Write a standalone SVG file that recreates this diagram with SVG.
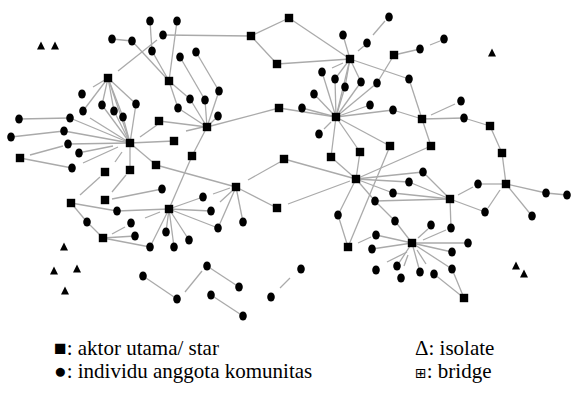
<svg xmlns="http://www.w3.org/2000/svg" width="571" height="395" viewBox="0 0 571 395">
<style>
.e line{stroke:#aaaaaa;stroke-width:1.3;fill:none}
.n{fill:#000}
</style>
<defs>
<rect id="sq" x="-4.2" y="-4.2" width="8.4" height="8.4"/>
<ellipse id="ci" rx="3.8" ry="4.5"/>
<path id="tr" d="M0,-4.5L4,3.5L-4,3.5Z"/>
</defs>
<rect width="571" height="395" fill="#fff"/>
<g id="connectors" class="e">
<line x1="150" y1="21" x2="152" y2="51"/>
<line x1="177" y1="21" x2="169" y2="81"/>
<line x1="163" y1="35" x2="251" y2="36"/>
<line x1="157" y1="40" x2="118" y2="71"/>
<line x1="112" y1="39" x2="132" y2="41"/>
<line x1="132" y1="41" x2="169" y2="81"/>
<line x1="152" y1="51" x2="169" y2="81"/>
<line x1="169" y1="81" x2="178" y2="108"/>
<line x1="169" y1="81" x2="190" y2="99"/>
<line x1="180" y1="57" x2="205" y2="100"/>
<line x1="196" y1="52" x2="219" y2="91"/>
<line x1="205" y1="100" x2="207" y2="127"/>
<line x1="219" y1="91" x2="207" y2="127"/>
<line x1="190" y1="99" x2="207" y2="127"/>
<line x1="178" y1="108" x2="207" y2="127"/>
<line x1="218" y1="116" x2="207" y2="127"/>
<line x1="159" y1="121" x2="207" y2="127"/>
<line x1="157" y1="125" x2="140" y2="137"/>
<line x1="186" y1="131" x2="203" y2="127"/>
<line x1="207" y1="127" x2="192" y2="156"/>
<line x1="207" y1="127" x2="279" y2="108"/>
<line x1="192" y1="156" x2="169" y2="209"/>
<line x1="108" y1="78" x2="93" y2="87"/>
<line x1="108" y1="78" x2="83" y2="111"/>
<line x1="108" y1="78" x2="102" y2="105"/>
<line x1="108" y1="78" x2="114" y2="111"/>
<line x1="108" y1="78" x2="123" y2="117"/>
<line x1="108" y1="78" x2="136" y2="104"/>
<line x1="108" y1="78" x2="130" y2="143"/>
<line x1="130" y1="143" x2="90" y2="118"/>
<line x1="130" y1="143" x2="102" y2="105"/>
<line x1="130" y1="143" x2="114" y2="111"/>
<line x1="130" y1="143" x2="123" y2="117"/>
<line x1="130" y1="143" x2="136" y2="104"/>
<line x1="130" y1="143" x2="70" y2="118"/>
<line x1="130" y1="143" x2="64" y2="131"/>
<line x1="130" y1="143" x2="68" y2="144"/>
<line x1="113" y1="146" x2="83" y2="152"/>
<line x1="118" y1="147" x2="83" y2="163"/>
<line x1="19" y1="119" x2="70" y2="118"/>
<line x1="11" y1="137" x2="64" y2="131"/>
<line x1="30" y1="155" x2="63" y2="146"/>
<line x1="20" y1="158" x2="72" y2="168"/>
<line x1="130" y1="143" x2="174" y2="141"/>
<line x1="130" y1="143" x2="156" y2="165"/>
<line x1="130" y1="143" x2="130" y2="170"/>
<line x1="122" y1="152" x2="115" y2="162"/>
<line x1="100" y1="177" x2="80" y2="195"/>
<line x1="126" y1="175" x2="112" y2="192"/>
<line x1="112" y1="199" x2="162" y2="189"/>
<line x1="156" y1="165" x2="236" y2="187"/>
<line x1="169" y1="209" x2="117" y2="211"/>
<line x1="160" y1="212" x2="145" y2="218"/>
<line x1="169" y1="209" x2="150" y2="247"/>
<line x1="169" y1="209" x2="166" y2="232"/>
<line x1="169" y1="209" x2="174" y2="247"/>
<line x1="169" y1="209" x2="189" y2="240"/>
<line x1="169" y1="209" x2="203" y2="197"/>
<line x1="169" y1="209" x2="211" y2="211"/>
<line x1="169" y1="209" x2="218" y2="228"/>
<line x1="71" y1="203" x2="117" y2="211"/>
<line x1="71" y1="203" x2="87" y2="222"/>
<line x1="87" y1="222" x2="103" y2="238"/>
<line x1="112" y1="234" x2="125" y2="227"/>
<line x1="103" y1="238" x2="135" y2="236"/>
<line x1="103" y1="238" x2="150" y2="247"/>
<line x1="230" y1="188" x2="213" y2="194"/>
<line x1="232" y1="191" x2="220" y2="202"/>
<line x1="236" y1="187" x2="218" y2="228"/>
<line x1="236" y1="187" x2="243" y2="222"/>
<line x1="236" y1="187" x2="277" y2="208"/>
<line x1="248" y1="180" x2="280" y2="162"/>
<line x1="284" y1="159" x2="356" y2="179"/>
<line x1="288" y1="204" x2="350" y2="181"/>
<line x1="143" y1="276" x2="177" y2="299"/>
<line x1="185" y1="292" x2="202" y2="271"/>
<line x1="207" y1="266" x2="239" y2="287"/>
<line x1="211" y1="295" x2="243" y2="316"/>
<line x1="280" y1="288" x2="290" y2="278"/>
<line x1="251" y1="36" x2="289" y2="18"/>
<line x1="251" y1="36" x2="277" y2="64"/>
<line x1="289" y1="18" x2="350" y2="59"/>
<line x1="277" y1="64" x2="350" y2="59"/>
<line x1="350" y1="59" x2="343" y2="35"/>
<line x1="358" y1="51" x2="364" y2="46"/>
<line x1="373" y1="35" x2="385" y2="21"/>
<line x1="350" y1="59" x2="409" y2="79"/>
<line x1="343" y1="63" x2="332" y2="68"/>
<line x1="350" y1="59" x2="345" y2="87"/>
<line x1="350" y1="59" x2="361" y2="82"/>
<line x1="350" y1="59" x2="335" y2="79"/>
<line x1="350" y1="59" x2="336" y2="117"/>
<line x1="394" y1="55" x2="420" y2="49"/>
<line x1="430" y1="45" x2="440" y2="41"/>
<line x1="394" y1="55" x2="377" y2="83"/>
<line x1="409" y1="79" x2="422" y2="119"/>
<line x1="336" y1="117" x2="322" y2="72"/>
<line x1="336" y1="117" x2="335" y2="79"/>
<line x1="336" y1="117" x2="345" y2="87"/>
<line x1="336" y1="117" x2="361" y2="82"/>
<line x1="336" y1="117" x2="377" y2="83"/>
<line x1="336" y1="117" x2="314" y2="94"/>
<line x1="336" y1="117" x2="302" y2="108"/>
<line x1="336" y1="117" x2="279" y2="108"/>
<line x1="336" y1="117" x2="370" y2="105"/>
<line x1="336" y1="117" x2="393" y2="110"/>
<line x1="331" y1="122" x2="324" y2="129"/>
<line x1="336" y1="117" x2="390" y2="146"/>
<line x1="336" y1="117" x2="360" y2="152"/>
<line x1="336" y1="117" x2="331" y2="157"/>
<line x1="393" y1="110" x2="422" y2="119"/>
<line x1="431" y1="115" x2="455" y2="104"/>
<line x1="422" y1="119" x2="464" y2="118"/>
<line x1="464" y1="118" x2="490" y2="126"/>
<line x1="490" y1="126" x2="502" y2="153"/>
<line x1="502" y1="153" x2="506" y2="184"/>
<line x1="422" y1="119" x2="431" y2="146"/>
<line x1="431" y1="146" x2="356" y2="179"/>
<line x1="356" y1="179" x2="360" y2="152"/>
<line x1="356" y1="179" x2="331" y2="157"/>
<line x1="356" y1="179" x2="423" y2="172"/>
<line x1="356" y1="179" x2="409" y2="182"/>
<line x1="356" y1="179" x2="393" y2="193"/>
<line x1="356" y1="179" x2="375" y2="201"/>
<line x1="356" y1="179" x2="338" y2="215"/>
<line x1="390" y1="146" x2="348" y2="247"/>
<line x1="338" y1="215" x2="348" y2="247"/>
<line x1="358" y1="243" x2="371" y2="237"/>
<line x1="450" y1="199" x2="423" y2="172"/>
<line x1="450" y1="199" x2="409" y2="182"/>
<line x1="450" y1="199" x2="393" y2="193"/>
<line x1="450" y1="199" x2="375" y2="201"/>
<line x1="375" y1="201" x2="395" y2="221"/>
<line x1="395" y1="221" x2="412" y2="243"/>
<line x1="458" y1="195" x2="473" y2="187"/>
<line x1="478" y1="184" x2="506" y2="184"/>
<line x1="450" y1="199" x2="485" y2="212"/>
<line x1="488" y1="208" x2="500" y2="190"/>
<line x1="506" y1="184" x2="546" y2="193"/>
<line x1="546" y1="193" x2="567" y2="195"/>
<line x1="506" y1="184" x2="532" y2="216"/>
<line x1="450" y1="199" x2="451" y2="228"/>
<line x1="446" y1="230" x2="423" y2="240"/>
<line x1="428" y1="229" x2="418" y2="238"/>
<line x1="412" y1="243" x2="376" y2="235"/>
<line x1="412" y1="243" x2="372" y2="249"/>
<line x1="412" y1="243" x2="468" y2="243"/>
<line x1="412" y1="243" x2="452" y2="252"/>
<line x1="412" y1="243" x2="452" y2="269"/>
<line x1="417" y1="250" x2="426" y2="264"/>
<line x1="412" y1="243" x2="420" y2="272"/>
<line x1="408" y1="255" x2="404" y2="266"/>
<line x1="412" y1="243" x2="397" y2="266"/>
<line x1="407" y1="252" x2="387" y2="262"/>
<line x1="434" y1="274" x2="464" y2="298"/>
<line x1="452" y1="269" x2="464" y2="298"/>
</g>
<g id="nodes" class="n">
<g id="s1"><use href="#sq" x="108" y="78"/></g>
<g id="s2"><use href="#sq" x="169" y="81"/></g>
<g id="s3"><use href="#sq" x="159" y="121"/></g>
<g id="s4"><use href="#sq" x="130" y="143"/></g>
<g id="s5"><use href="#sq" x="174" y="141"/></g>
<g id="s6"><use href="#sq" x="192" y="156"/></g>
<g id="s7"><use href="#sq" x="207" y="127"/></g>
<g id="s8"><use href="#sq" x="20" y="158"/></g>
<g id="s9"><use href="#sq" x="105" y="172"/></g>
<g id="s10"><use href="#sq" x="130" y="170"/></g>
<g id="s11"><use href="#sq" x="156" y="165"/></g>
<g id="s12"><use href="#sq" x="71" y="203"/></g>
<g id="s13"><use href="#sq" x="105" y="200"/></g>
<g id="s14"><use href="#sq" x="169" y="209"/></g>
<g id="s15"><use href="#sq" x="103" y="238"/></g>
<g id="s16"><use href="#sq" x="236" y="187"/></g>
<g id="s17"><use href="#sq" x="277" y="208"/></g>
<g id="s18"><use href="#sq" x="284" y="159"/></g>
<g id="s19"><use href="#sq" x="251" y="36"/></g>
<g id="s20"><use href="#sq" x="289" y="18"/></g>
<g id="s21"><use href="#sq" x="277" y="64"/></g>
<g id="s22"><use href="#sq" x="350" y="59"/></g>
<g id="s23"><use href="#sq" x="279" y="108"/></g>
<g id="s24"><use href="#sq" x="336" y="117"/></g>
<g id="s25"><use href="#sq" x="331" y="157"/></g>
<g id="s26"><use href="#sq" x="360" y="152"/></g>
<g id="s27"><use href="#sq" x="390" y="146"/></g>
<g id="s28"><use href="#sq" x="356" y="179"/></g>
<g id="s29"><use href="#sq" x="394" y="55"/></g>
<g id="s30"><use href="#sq" x="422" y="119"/></g>
<g id="s31"><use href="#sq" x="431" y="146"/></g>
<g id="s32"><use href="#sq" x="490" y="126"/></g>
<g id="s33"><use href="#sq" x="502" y="153"/></g>
<g id="s34"><use href="#sq" x="506" y="184"/></g>
<g id="s35"><use href="#sq" x="450" y="199"/></g>
<g id="s36"><use href="#sq" x="412" y="243"/></g>
<g id="s37"><use href="#sq" x="348" y="247"/></g>
<g id="s38"><use href="#sq" x="464" y="298"/></g>
<g id="c1"><use href="#ci" x="150" y="21"/></g>
<g id="c2"><use href="#ci" x="177" y="21"/></g>
<g id="c3"><use href="#ci" x="163" y="35"/></g>
<g id="c4"><use href="#ci" x="112" y="39"/></g>
<g id="c5"><use href="#ci" x="132" y="41"/></g>
<g id="c6"><use href="#ci" x="152" y="51"/></g>
<g id="c7"><use href="#ci" x="180" y="57"/></g>
<g id="c8"><use href="#ci" x="196" y="52"/></g>
<g id="c9"><use href="#ci" x="219" y="91"/></g>
<g id="c10"><use href="#ci" x="205" y="100"/></g>
<g id="c11"><use href="#ci" x="190" y="99"/></g>
<g id="c12"><use href="#ci" x="178" y="108"/></g>
<g id="c13"><use href="#ci" x="218" y="116"/></g>
<g id="c14"><use href="#ci" x="82" y="94"/></g>
<g id="c15"><use href="#ci" x="83" y="111"/></g>
<g id="c16"><use href="#ci" x="102" y="105"/></g>
<g id="c17"><use href="#ci" x="114" y="111"/></g>
<g id="c18"><use href="#ci" x="123" y="117"/></g>
<g id="c19"><use href="#ci" x="136" y="104"/></g>
<g id="c20"><use href="#ci" x="19" y="119"/></g>
<g id="c21"><use href="#ci" x="70" y="118"/></g>
<g id="c22"><use href="#ci" x="11" y="137"/></g>
<g id="c23"><use href="#ci" x="64" y="131"/></g>
<g id="c24"><use href="#ci" x="68" y="144"/></g>
<g id="c25"><use href="#ci" x="79" y="153"/></g>
<g id="c26"><use href="#ci" x="72" y="168"/></g>
<g id="c27"><use href="#ci" x="162" y="189"/></g>
<g id="c28"><use href="#ci" x="117" y="211"/></g>
<g id="c29"><use href="#ci" x="87" y="222"/></g>
<g id="c30"><use href="#ci" x="131" y="223"/></g>
<g id="c31"><use href="#ci" x="135" y="236"/></g>
<g id="c32"><use href="#ci" x="150" y="247"/></g>
<g id="c33"><use href="#ci" x="166" y="232"/></g>
<g id="c34"><use href="#ci" x="174" y="247"/></g>
<g id="c35"><use href="#ci" x="189" y="240"/></g>
<g id="c36"><use href="#ci" x="203" y="197"/></g>
<g id="c37"><use href="#ci" x="211" y="211"/></g>
<g id="c38"><use href="#ci" x="218" y="228"/></g>
<g id="c39"><use href="#ci" x="243" y="222"/></g>
<g id="c40"><use href="#ci" x="143" y="276"/></g>
<g id="c41"><use href="#ci" x="177" y="299"/></g>
<g id="c42"><use href="#ci" x="207" y="266"/></g>
<g id="c43"><use href="#ci" x="239" y="287"/></g>
<g id="c44"><use href="#ci" x="211" y="295"/></g>
<g id="c45"><use href="#ci" x="243" y="316"/></g>
<g id="c46"><use href="#ci" x="271" y="297"/></g>
<g id="c47"><use href="#ci" x="301" y="269"/></g>
<g id="c48"><use href="#ci" x="343" y="35"/></g>
<g id="c49"><use href="#ci" x="367" y="43"/></g>
<g id="c50"><use href="#ci" x="389" y="17"/></g>
<g id="c51"><use href="#ci" x="420" y="49"/></g>
<g id="c52"><use href="#ci" x="444" y="39"/></g>
<g id="c53"><use href="#ci" x="322" y="72"/></g>
<g id="c54"><use href="#ci" x="335" y="79"/></g>
<g id="c55"><use href="#ci" x="345" y="87"/></g>
<g id="c56"><use href="#ci" x="361" y="82"/></g>
<g id="c57"><use href="#ci" x="377" y="83"/></g>
<g id="c58"><use href="#ci" x="409" y="79"/></g>
<g id="c59"><use href="#ci" x="314" y="94"/></g>
<g id="c60"><use href="#ci" x="302" y="108"/></g>
<g id="c61"><use href="#ci" x="370" y="105"/></g>
<g id="c62"><use href="#ci" x="393" y="110"/></g>
<g id="c63"><use href="#ci" x="319" y="134"/></g>
<g id="c64"><use href="#ci" x="461" y="101"/></g>
<g id="c65"><use href="#ci" x="464" y="118"/></g>
<g id="c66"><use href="#ci" x="375" y="201"/></g>
<g id="c67"><use href="#ci" x="338" y="215"/></g>
<g id="c68"><use href="#ci" x="376" y="235"/></g>
<g id="c69"><use href="#ci" x="372" y="249"/></g>
<g id="c70"><use href="#ci" x="423" y="172"/></g>
<g id="c71"><use href="#ci" x="409" y="182"/></g>
<g id="c72"><use href="#ci" x="393" y="193"/></g>
<g id="c73"><use href="#ci" x="478" y="184"/></g>
<g id="c74"><use href="#ci" x="485" y="212"/></g>
<g id="c75"><use href="#ci" x="532" y="216"/></g>
<g id="c76"><use href="#ci" x="546" y="193"/></g>
<g id="c77"><use href="#ci" x="567" y="195"/></g>
<g id="c78"><use href="#ci" x="395" y="221"/></g>
<g id="c79"><use href="#ci" x="431" y="225"/></g>
<g id="c80"><use href="#ci" x="451" y="228"/></g>
<g id="c81"><use href="#ci" x="468" y="243"/></g>
<g id="c82"><use href="#ci" x="452" y="252"/></g>
<g id="c83"><use href="#ci" x="452" y="269"/></g>
<g id="c84"><use href="#ci" x="434" y="274"/></g>
<g id="c85"><use href="#ci" x="420" y="272"/></g>
<g id="c86"><use href="#ci" x="401" y="278"/></g>
<g id="c87"><use href="#ci" x="397" y="266"/></g>
<g id="c88"><use href="#ci" x="376" y="270"/></g>
<g id="t1"><use href="#tr" x="41" y="46"/></g>
<g id="t2"><use href="#tr" x="55" y="46"/></g>
<g id="t3"><use href="#tr" x="492" y="53"/></g>
<g id="t4"><use href="#tr" x="64" y="247"/></g>
<g id="t5"><use href="#tr" x="54" y="271"/></g>
<g id="t6"><use href="#tr" x="77" y="269"/></g>
<g id="t7"><use href="#tr" x="65" y="291"/></g>
<g id="t8"><use href="#tr" x="516" y="266"/></g>
<g id="t9"><use href="#tr" x="524" y="274"/></g>
</g>
<g id="legend" font-family="Liberation Serif, serif" font-size="21" fill="#000">
<text x="54" y="355">■: aktor utama/ star</text>
<text x="54" y="378">●: individu anggota komunitas</text>
<text x="415" y="355">Δ: isolate</text>
<text x="415" y="378"><tspan font-family="DejaVu Sans, sans-serif" font-size="14">⊞</tspan>: bridge</text>
</g>
</svg>
